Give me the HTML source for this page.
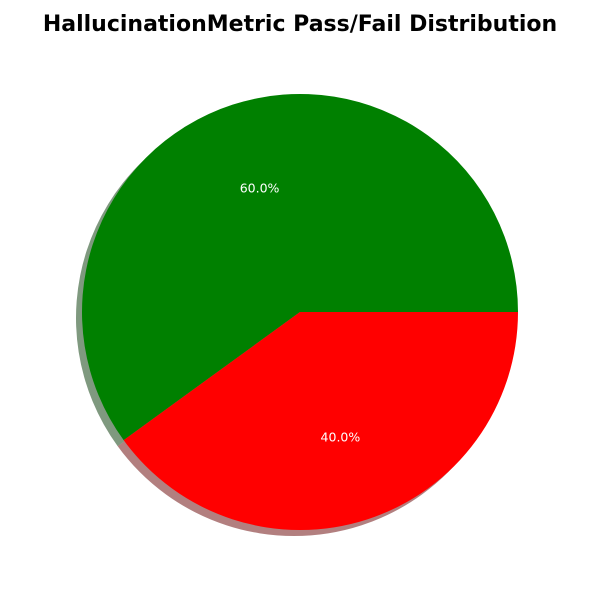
<!DOCTYPE html>
<html><head><meta charset="utf-8"><style>
html,body{margin:0;padding:0;background:#fff;width:600px;height:600px;overflow:hidden}
svg{display:block;font-family:"DejaVu Sans","Liberation Sans",sans-serif}
</style></head><body>
<svg id="chart" width="600" height="600">
<text x="300" y="31" text-anchor="middle" font-size="22" font-weight="bold" fill="#000">HallucinationMetric Pass/Fail Distribution</text>
<g id="shadows"></g>
<g id="slices"></g>
<g id="labels"></g>
</svg>
<script>
const categories = ["Pass", "Fail"];
const values = [60, 40];
const colors = ["#008000", "#ff0000"];
const shadowColors = ["#003300", "#660000"];
const cx = 300, cy = 312, r = 218;
const NS = "http://www.w3.org/2000/svg";
const total = values.reduce((a, b) => a + b, 0);
function pt(a, rad, ox, oy) { return [cx + ox + rad * Math.cos(a), cy + oy - rad * Math.sin(a)]; }
function arc(a0, a1, ox, oy) {
  const p0 = pt(a0, r, ox, oy), p1 = pt(a1, r, ox, oy);
  const large = (a1 - a0) > Math.PI ? 1 : 0;
  return `M${cx + ox},${cy + oy} L${p0[0]},${p0[1]} A${r},${r} 0 ${large} 0 ${p1[0]},${p1[1]} Z`;
}
let start = 0;
values.forEach((v, i) => {
  const a0 = start, a1 = start + v / total * 2 * Math.PI;
  start = a1;
  const sh = document.createElementNS(NS, "path");
  sh.setAttribute("d", arc(a0, a1, -6, 6));
  sh.setAttribute("fill", shadowColors[i]);
  sh.setAttribute("opacity", "0.5");
  
  
  document.getElementById("shadows").appendChild(sh);
  const p = document.createElementNS(NS, "path");
  p.setAttribute("d", arc(a0, a1, 0, 0));
  p.setAttribute("fill", colors[i]);
  
  
  document.getElementById("slices").appendChild(p);
  const mid = (a0 + a1) / 2;
  const lp = pt(mid, 0.6 * r, 0, 0);
  const t = document.createElementNS(NS, "text");
  t.setAttribute("x", lp[0]); t.setAttribute("y", lp[1] + 5);
  t.setAttribute("text-anchor", "middle");
  t.setAttribute("font-size", "12.5");
  t.setAttribute("fill", "#fff");
  t.textContent = (v / total * 100).toFixed(1) + "%";
  
  
  document.getElementById("labels").appendChild(t);
});
</script>
</body></html>
